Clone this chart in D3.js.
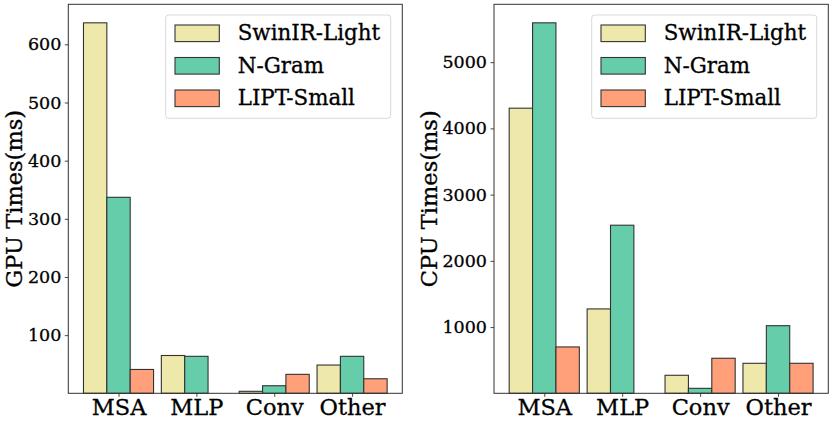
<!DOCTYPE html>
<html>
<head>
<meta charset="utf-8">
<script src="https://cdn.jsdelivr.net/npm/d3@7"></script>
<style>
  html, body { margin: 0; padding: 0; background: #fff; }
  svg { display: block; font-family: "DejaVu Serif", serif; }
  text { stroke: #000; stroke-width: 0.3px; }
</style>
</head>
<body>
<svg id="chart" width="830" height="422"></svg>
<script>
const categories = ["MSA", "MLP", "Conv", "Other"];
const seriesNames = ["SwinIR-Light", "N-Gram", "LIPT-Small"];
const seriesColors = ["#EEE8AA", "#66CDAA", "#FFA07A"];

const gpuSwinIR = [637, 65, 3.4, 48.6];
const gpuNGram  = [337, 63.6, 13, 63.6];
const gpuLIPT   = [41, 0, 32.6, 25];

const cpuSwinIR = [4305, 1274, 272, 453];
const cpuNGram  = [5594, 2538, 75, 1021];
const cpuLIPT   = [700, 0, 529, 453];

const gpuTicks = [100, 200, 300, 400, 500, 600];
const cpuTicks = [1000, 2000, 3000, 4000, 5000];

const svg = d3.select("#chart");

const panels = [
  { series: [gpuSwinIR, gpuNGram, gpuLIPT], ticks: gpuTicks, label: "GPU Times(ms)",
    x0: 68.3, x1: 402.3, labelX: 21.5 },
  { series: [cpuSwinIR, cpuNGram, cpuLIPT], ticks: cpuTicks, label: "CPU Times(ms)",
    x0: 494, x1: 828.3, labelX: 436.5 }
];
const yTop = 4.3, yBot = 393.3;
const barW = 0.3;

panels.forEach(p => {
  const g = svg.append("g");
  const maxV = d3.max(p.series.flat());
  const x = d3.scaleLinear().domain([-0.645, categories.length - 1 + 0.645]).range([p.x0, p.x1]);
  const y = d3.scaleLinear().domain([0, maxV * 1.05]).range([yBot, yTop]);

  // bars
  p.series.forEach((vals, j) => {
    g.selectAll(null).data(vals).enter().append("rect")
      .attr("x", (d, i) => x(i + (j - 1) * barW - barW / 2))
      .attr("width", x(barW) - x(0))
      .attr("y", d => y(d))
      .attr("height", d => y(0) - y(d))
      .attr("fill", seriesColors[j])
      .attr("stroke", d => d > 0 ? "#333" : "none")
      .attr("stroke-width", 1.1);
  });

  // axes
  const yAxis = d3.axisLeft(y).tickValues(p.ticks).tickSize(3.5).tickPadding(3.5).tickFormat(d3.format("d"));
  const ya = g.append("g").attr("transform", `translate(${p.x0},0)`).call(yAxis);
  ya.select(".domain").remove();
  ya.selectAll("line").attr("stroke", "#333").attr("stroke-width", 0.9);
  ya.selectAll("text").attr("font-family", "DejaVu Serif").attr("font-size", 17.5).attr("fill", "#000");

  const xAxis = d3.axisBottom(x).tickValues(d3.range(categories.length)).tickFormat(i => categories[i]).tickSize(3.5).tickPadding(3);
  const xa = g.append("g").attr("transform", `translate(0,${yBot})`).call(xAxis);
  xa.select(".domain").remove();
  xa.selectAll("line").attr("stroke", "#333").attr("stroke-width", 0.9);
  xa.selectAll("text").attr("font-family", "DejaVu Serif").attr("font-size", 22.5).attr("fill", "#000")
    .attr("dy", null).attr("y", 21.4);

  // frame
  g.append("rect").attr("x", p.x0).attr("y", yTop).attr("width", p.x1 - p.x0).attr("height", yBot - yTop)
    .attr("fill", "none").attr("stroke", "#333").attr("stroke-width", 1);

  // y label
  g.append("text")
    .attr("transform", `translate(${p.labelX},${(yTop + yBot) / 2}) rotate(-90)`)
    .attr("text-anchor", "middle")
    .attr("font-size", 22.5)
    .text(p.label);

  // legend
  const lx = p.x1 - 11.6 - 225, ly = 15;
  const lg = g.append("g").attr("transform", `translate(${lx},${ly})`);
  lg.append("rect").attr("width", 225).attr("height", 103.3).attr("rx", 3)
    .attr("fill", "#fff").attr("fill-opacity", 0.8).attr("stroke", "#d9d9d9").attr("stroke-width", 1);
  seriesNames.forEach((name, j) => {
    const cy = 18.3 + j * 32.5;
    lg.append("rect").attr("x", 9.3).attr("y", cy - 8.3).attr("width", 44.3).attr("height", 16.6)
      .attr("fill", seriesColors[j]).attr("stroke", "#333").attr("stroke-width", 1.1);
    lg.append("text").attr("x", 72).attr("y", cy + 6.8).attr("font-size", 21.4).text(name);
  });
});
</script>
</body>
</html>
